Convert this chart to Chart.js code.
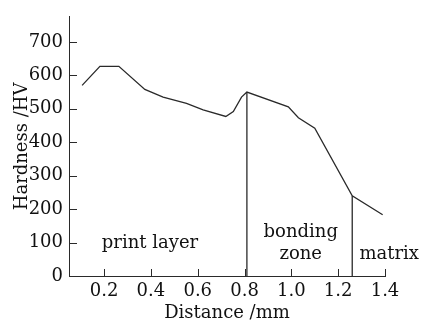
<!DOCTYPE html>
<html>
<head>
<meta charset="utf-8">
<script src="https://cdn.jsdelivr.net/npm/chart.js@4.4.1/dist/chart.umd.min.js"></script>
<style>
html, body { margin: 0; padding: 0; background: #fff; }
</style>
</head>
<body>
<canvas id="cHard" width="422" height="326"></canvas>
<script>
// data
const distance = [0.106, 0.182, 0.263, 0.374, 0.452, 0.552, 0.623, 0.720, 0.752, 0.787, 0.81, 0.987, 1.03, 1.10, 1.26, 1.39];
const hardness = [570, 627, 627, 558, 535, 516, 497, 477, 492, 535, 550, 506, 473, 442, 240, 183];
const boundaryX = [0.81, 1.26];
const boundaryTop = [550, 240];
const xTicks = [0.2, 0.4, 0.6, 0.8, 1.0, 1.2, 1.4];
const yTicks = [0, 100, 200, 300, 400, 500, 600, 700];
const regionLabels = [['print layer'], ['bonding', 'zone'], ['matrix']];

Chart.defaults.font.family = "'DejaVu Serif', serif";
Chart.defaults.font.size = 18;
Chart.defaults.color = '#111';

const ink = '#2a2a2a';

let hardPts = distance.map((d, i) => ({x: d, y: hardness[i]}));
let datasets = [{
    data: hardPts,
    showLine: true,
    borderColor: ink,
    borderWidth: 1.3,
    pointRadius: 0,
    tension: 0,
}];
boundaryX.forEach((bx, i) => {
    datasets.push({
        data: [{x: bx, y: 0}, {x: bx, y: boundaryTop[i]}],
        showLine: true,
        borderColor: ink,
        borderWidth: 1.3,
        pointRadius: 0,
    });
});

// ticks point inwards in the reference, so draw them here
const innerTicks = {
    id: 'innerTicks',
    afterDraw(chart) {
        const {ctx, scales: {x, y}} = chart;
        ctx.save();
        ctx.strokeStyle = ink;
        ctx.lineWidth = 1;
        ctx.beginPath();
        for (let v of xTicks) {
            let px = Math.round(x.getPixelForValue(v)) + 0.5;
            ctx.moveTo(px, y.bottom);
            ctx.lineTo(px, y.bottom - 7);
        }
        for (let v of yTicks) {
            let py = Math.round(y.getPixelForValue(v)) + 0.5;
            ctx.moveTo(x.left, py);
            ctx.lineTo(x.left + 8, py);
        }
        ctx.stroke();

        // region names
        const spots = [{x: 0.396, y: 97}, {x: 1.04, y: 131}, {x: 1.418, y: 66}];
        ctx.fillStyle = '#111';
        ctx.font = "18px 'DejaVu Serif', serif";
        ctx.textAlign = 'center';
        ctx.textBaseline = 'middle';
        regionLabels.forEach((lines, i) => {
            let px = x.getPixelForValue(spots[i].x);
            let py = y.getPixelForValue(spots[i].y);
            lines.forEach((t, j) => ctx.fillText(t, px, py + j * 22));
        });
        ctx.restore();
    }
};

new Chart(document.getElementById('cHard'), {
    type: 'scatter',
    data: {datasets: datasets},
    options: {
        responsive: false,
        animation: false,
        layout: {padding: {left: 0, top: 4, right: 37, bottom: 0}},
        plugins: {legend: {display: false}, tooltip: {enabled: false}},
        scales: {
            x: {
                type: 'linear',
                min: 0.05,
                max: 1.4,
                afterBuildTicks: (s) => { s.ticks = xTicks.map(v => ({value: v})); },
                afterFit: (s) => { s.height = 50; },
                grid: {display: false, drawTicks: false, tickLength: 0},
                border: {display: true, color: ink, width: 1},
                ticks: {padding: 5, maxRotation: 0, callback: (v) => v.toFixed(1)},
                title: {display: true, text: 'Distance /mm', padding: {top: 0, bottom: 2}},
            },
            y: {
                min: 0,
                max: 775,
                afterBuildTicks: (s) => { s.ticks = yTicks.map(v => ({value: v})); },
                afterFit: (s) => { s.width = 69; },
                grid: {display: false, drawTicks: false, tickLength: 0},
                border: {display: true, color: ink, width: 1},
                ticks: {padding: 6},
                title: {display: true, text: 'Hardness /HV', padding: {top: 12, bottom: 0}},
            }
        }
    },
    plugins: [innerTicks]
});
</script>
</body>
</html>
